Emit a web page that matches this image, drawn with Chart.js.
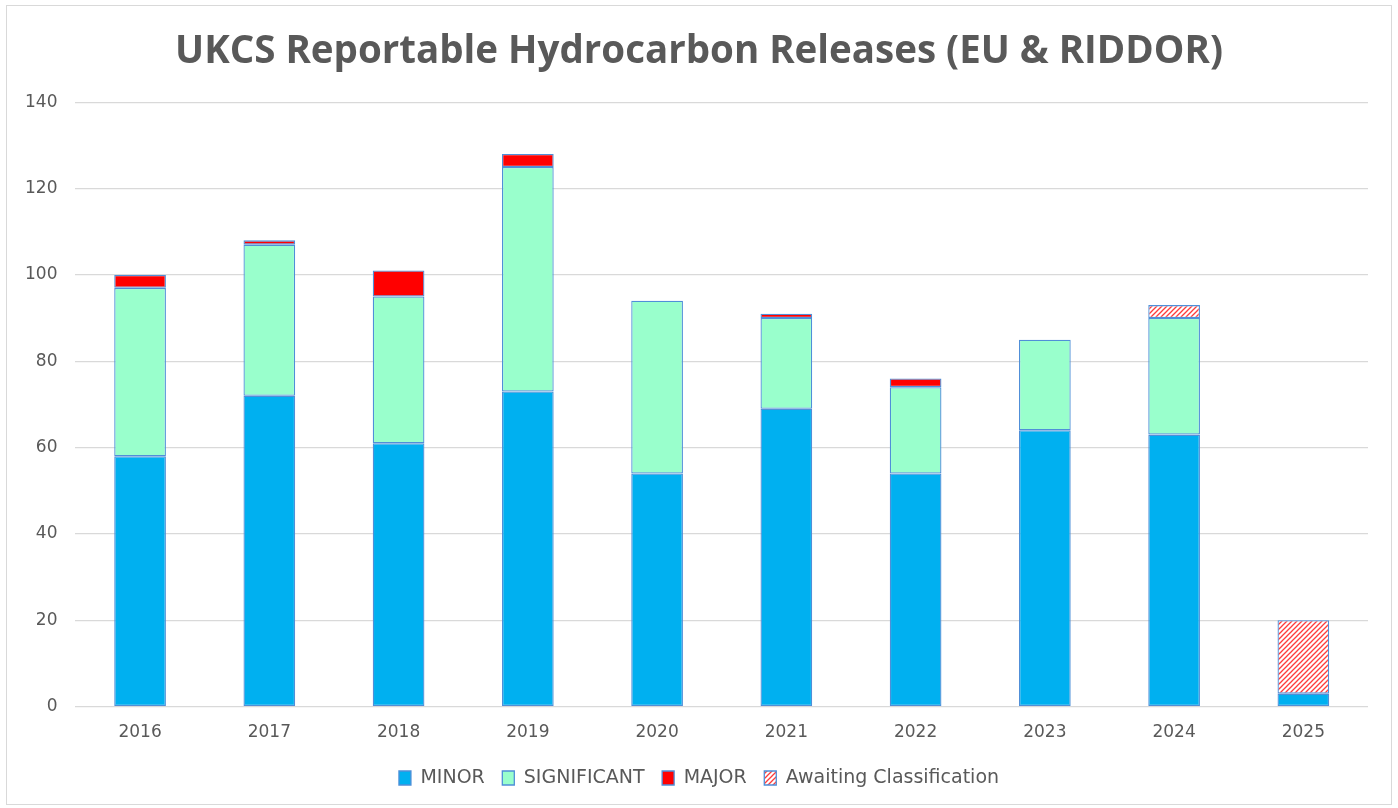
<!DOCTYPE html>
<html>
<head>
<meta charset="utf-8">
<script src="https://cdn.jsdelivr.net/npm/chart.js@4.4.1/dist/chart.umd.min.js"></script>
<style>
  html, body { margin: 0; padding: 0; background: #fff; }
  #wrap { position: absolute; left: 6px; top: 5px; width: 1386px; height: 800px; border: 1px solid #d9d9d9; box-sizing: border-box; }
  canvas { display: block; }
</style>
</head>
<body>
<div id="wrap"><canvas id="chart" width="1384" height="798"></canvas></div>
<script>
const years = ["2016", "2017", "2018", "2019", "2020", "2021", "2022", "2023", "2024", "2025"];
const minor = [58, 72, 61, 73, 54, 69, 54, 64, 63, 3];
const significant = [39, 35, 34, 52, 40, 21, 20, 21, 27, 0];
const major = [3, 1, 6, 3, 0, 1, 2, 0, 0, 0];
const awaiting = [0, 0, 0, 0, 0, 0, 0, 0, 3, 17];

// hatch for "awaiting classification"
function hatch() {
  const c = document.createElement("canvas");
  c.width = 5;
  c.height = 5;
  const g = c.getContext("2d");
  g.fillStyle = "#fff";
  g.fillRect(0, 0, 5, 5);
  g.strokeStyle = "#ff3b3b";
  g.lineWidth = 1.3;
  g.beginPath();
  g.moveTo(-1, 6); g.lineTo(6, -1);
  g.moveTo(-3.5, 3.5); g.lineTo(3.5, -3.5);
  g.moveTo(1.5, 8.5); g.lineTo(8.5, 1.5);
  g.stroke();
  return g.createPattern(c, "repeat");
}

const edge = "#4f8fd8";
const grey = "#595959";

function ds(label, data, color) {
  return {
    label: label,
    data: data,
    backgroundColor: color,
    borderColor: edge,
    borderWidth: 1.3,
    borderSkipped: false,
    barPercentage: 0.4,
    categoryPercentage: 1.0,
  };
}

const chart = document.querySelector("#chart").getContext("2d");

new Chart(chart, {
  type: "bar",
  data: {
    labels: years,
    datasets: [
      ds("MINOR", minor, "#00b0f0"),
      ds("SIGNIFICANT", significant, "#99ffcc"),
      ds("MAJOR", major, "#ff0000"),
      ds("Awaiting Classification", awaiting, hatch()),
    ],
  },
  options: {
    responsive: false,
    animation: false,
    layout: { padding: { left: 0, right: 0, top: 10, bottom: 6.5 } },
    plugins: {
      title: {
        display: true,
        text: "UKCS Reportable Hydrocarbon Releases (EU & RIDDOR)",
        color: grey,
        font: { family: "Open Sans", size: 38.5, weight: "bold" },
        padding: { top: 13, bottom: 27 },
      },
      legend: {
        position: "bottom",
        labels: {
          color: grey,
          font: { family: "DejaVu Sans", size: 19 },
          boxWidth: 12,
          boxHeight: 14,
          padding: 17.5,
        },
      },
      tooltip: { enabled: false },
    },
    scales: {
      x: {
        stacked: true,
        grid: { display: false },
        border: { display: false },
        ticks: { color: grey, font: { family: "DejaVu Sans", size: 17 }, padding: 8 },
      },
      y: {
        stacked: true,
        min: 0,
        max: 140,
        ticks: { stepSize: 20, color: grey, font: { family: "DejaVu Sans", size: 17 }, padding: 18 },
        grid: { color: "#d9d9d9", lineWidth: 1.2, drawTicks: false },
        border: { display: false },
      },
      // empty right margin so the title stays centred on the whole chart
      gap: {
        position: "right",
        display: true,
        ticks: { display: false },
        grid: { display: false },
        border: { display: false },
        afterFit: (scale) => { scale.width = 23; },
      },
    },
  },
});
</script>
</body>
</html>
